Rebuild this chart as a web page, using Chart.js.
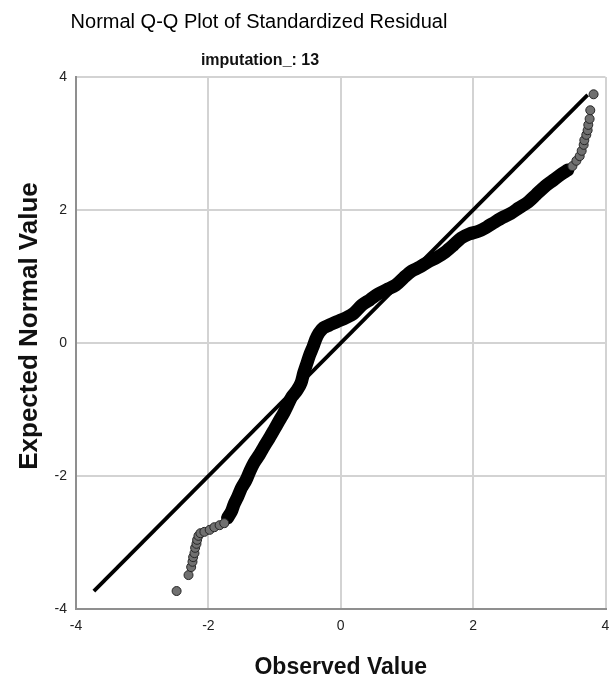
<!DOCTYPE html>
<html><head><meta charset="utf-8">
<script src="https://cdn.jsdelivr.net/npm/chart.js@4.4.1/dist/chart.umd.min.js"></script>
<style>
html,body{margin:0;padding:0;background:#fff;}
#wrap{position:relative;width:611px;height:681px;overflow:hidden;}
canvas{position:absolute;left:0;top:0;}
.t{position:absolute;font-family:"Liberation Sans",Arial,sans-serif;color:#000;text-align:center;white-space:nowrap;}
#title{left:0;width:518px;top:9px;font-size:20px;line-height:24px;}
#sub{left:0;width:520px;top:50px;font-size:16px;line-height:20px;font-weight:bold;color:#111;}
#ytitle{left:28px;top:326px;width:400px;margin-left:-200px;height:30px;line-height:30px;margin-top:-15px;
  font-size:26px;font-weight:bold;color:#111;transform:rotate(-90deg);transform-origin:50% 50%;}
</style></head><body>
<div id="wrap"><canvas id="c" width="611" height="681"></canvas>
<div class="t" id="title"></div>
<div class="t" id="sub"></div>
<div class="t" id="ytitle"></div></div>
<script>
const chartTitle = "Normal Q-Q Plot of Standardized Residual";
const chartSubtitle = "imputation_: 13";
const xAxisTitle = "Observed Value";
const yAxisTitle = "Expected Normal Value";
const tickValues = [-4, -2, 0, 2, 4];

// lower tail (separate markers)
const lowTailObserved = [-2.48,-2.30,-2.26,-2.24,-2.23,-2.21,-2.20,-2.18,-2.17,-2.15,-2.12,-2.06,-1.98,-1.91,-1.83,-1.76];
const lowTailExpected = [-3.73,-3.49,-3.37,-3.29,-3.22,-3.16,-3.08,-3.02,-2.96,-2.90,-2.86,-2.84,-2.81,-2.77,-2.74,-2.71];

// dense middle (overlapping markers)
const bandObserved = [-1.71,-1.65,-1.61,-1.56,-1.50,-1.43,-1.37,-1.31,-1.23,-1.16,-1.08,-1.01,-0.93,-0.86,-0.80,-0.74,-0.66,-0.60,-0.56,-0.51,-0.47,-0.42,-0.38,-0.33,-0.26,-0.17,-0.06,0.08,0.20,0.32,0.44,0.57,0.69,0.83,0.95,1.07,1.19,1.32,1.44,1.58,1.70,1.82,1.94,2.08,2.20,2.33,2.45,2.57,2.69,2.83,2.95,3.08,3.20,3.32,3.43];
const bandExpected = [-2.63,-2.53,-2.42,-2.32,-2.18,-2.06,-1.92,-1.80,-1.68,-1.56,-1.43,-1.31,-1.17,-1.05,-0.93,-0.81,-0.71,-0.60,-0.45,-0.30,-0.18,-0.06,0.05,0.15,0.23,0.27,0.32,0.38,0.45,0.57,0.65,0.74,0.80,0.87,0.98,1.08,1.14,1.22,1.28,1.37,1.47,1.58,1.64,1.68,1.74,1.82,1.89,1.95,2.03,2.12,2.23,2.35,2.44,2.53,2.60];

// upper tail (separate markers)
const highTailObserved = [3.50,3.56,3.61,3.64,3.67,3.68,3.71,3.73,3.74,3.76,3.77,3.82];
const highTailExpected = [2.66,2.74,2.81,2.89,2.98,3.05,3.13,3.20,3.28,3.37,3.50,3.74];

// reference line
const refLineX = [-3.73, 3.73];
const refLineY = [-3.73, 3.73];

document.getElementById('title').textContent = chartTitle;
document.getElementById('sub').textContent = chartSubtitle;
document.getElementById('ytitle').textContent = yAxisTitle;

const pairs = (xs, ys) => xs.map((x, i) => ({x: x, y: ys[i]}));
const FONT = '"Liberation Sans", Arial, sans-serif';
const markerFill = '#707070';
const markerEdge = '#262626';

new Chart(document.getElementById('c'), {
  type: 'scatter',
  data: {
    datasets: [
      { data: pairs(highTailObserved, highTailExpected), order: 1,
        pointRadius: 4.5, pointBackgroundColor: markerFill, pointBorderColor: markerEdge, pointBorderWidth: 1 },
      { data: pairs(lowTailObserved, lowTailExpected), order: 1,
        pointRadius: 4.5, pointBackgroundColor: markerFill, pointBorderColor: markerEdge, pointBorderWidth: 1 },
      { data: pairs(bandObserved, bandExpected), order: 2, showLine: true,
        borderColor: '#000', borderWidth: 13, borderCapStyle: 'round', borderJoinStyle: 'round',
        tension: 0.3, pointRadius: 0 },
      { data: pairs(refLineX, refLineY), order: 3, showLine: true,
        borderColor: '#000', borderWidth: 3.8, pointRadius: 0 }
    ]
  },
  options: {
    responsive: false,
    devicePixelRatio: 1,
    animation: false,
    layout: { padding: { top: 77, right: 4, left: 0, bottom: 0 } },
    plugins: { legend: { display: false }, tooltip: { enabled: false } },
    scales: {
      x: {
        type: 'linear', min: tickValues[0], max: tickValues[tickValues.length - 1],
        afterBuildTicks: s => { s.ticks = tickValues.map(v => ({value: v})); },
        afterFit: s => { s.height = 72; s.paddingLeft = 0; s.paddingRight = 0; },
        ticks: { padding: 9, color: '#222', font: { size: 14, family: FONT } },
        grid: { color: '#d3d3d3', lineWidth: 2, drawTicks: false },
        border: { color: '#8f8f8f', width: 2 },
        title: { display: true, text: xAxisTitle, color: '#111',
          font: { size: 23, weight: 'bold', family: FONT }, padding: { top: 0, bottom: 0 } }
      },
      y: {
        type: 'linear', min: tickValues[0], max: tickValues[tickValues.length - 1],
        afterBuildTicks: s => { s.ticks = tickValues.map(v => ({value: v})); },
        afterFit: s => { s.width = 76; s.paddingTop = 0; s.paddingBottom = 0; },
        ticks: { padding: 9, color: '#222', font: { size: 14, family: FONT } },
        grid: { color: '#d3d3d3', lineWidth: 2, drawTicks: false },
        border: { color: '#8f8f8f', width: 2 },
        title: { display: false }
      }
    }
  }
});
</script>
</body></html>
